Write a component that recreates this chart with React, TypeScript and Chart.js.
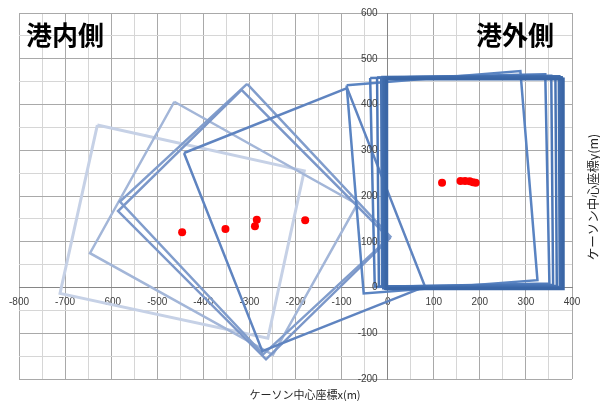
import React, { useEffect, useRef } from 'react';
import { Chart, registerables } from 'chart.js';

Chart.register(...registerables);

// ---- texts ----
const titleInner = '港内側';
const titleOuter = '港外側';
const xAxisTitle = 'ケーソン中心座標x(m)';
const yAxisTitle = 'ケーソン中心座標y(m)';

// ---- axis ranges / ticks ----
const xMin = -800;
const xMax = 400;
const yMin = -200;
const yMax = 600;
const tickStep = 50;
const labelStep = 100;

// ---- caisson outlines (closed polygons: corner coordinates) ----
const rectA_x = [-630, -181, -260, -711, -630];
const rectA_y = [355, 255, -111, -13, 355];
const rectB_x = [-463, -66, -249, -646, -463];
const rectB_y = [406, 182, -147, 75, 406];
const rectC_x = [-305, 6, -270, -581, -305];
const rectC_y = [445, 111, -146, 188, 445];
const rectD_x = [-317, 4, -264, -585, -317];
const rectD_y = [432, 107, -157, 167, 432];
const rectE_x = [-442, -88, 81, -272, -442];
const rectE_y = [294, 436, 2, -139, 294];
const rectR1_x = [-89, 288, 325, -52, -89];
const rectR1_y = [442, 473, 16, -13, 442];
const rectR2_x = [-38, 342, 351, -28, -38];
const rectR2_y = [458, 466, 9, 1, 458];
const rectR3_x = [-23, 355, 359, -19, -23];
const rectR3_y = [459, 463, 6, 2, 459];
const rectR4_x = [-14, 364, 367, -12, -14];
const rectR4_y = [460, 462, 4, 2, 460];
const rectR5_x = [-9, 372, 374, -8, -9];
const rectR5_y = [459, 461, 1, -1, 459];
const rectR6_x = [-6, 377, 378, -5, -6];
const rectR6_y = [458, 459, -1, -2, 458];
const rectR7_x = [-2, 381, 381, -2, -2];
const rectR7_y = [456, 456, -3, -3, 456];

// ---- caisson centres ----
const centerInner_x = [-446, -352, -284, -288, -179];
const centerInner_y = [121, 128, 148, 134, 147];
const centerOuter_x = [118, 158, 168, 178, 185, 191];
const centerOuter_y = [229, 233, 233, 232, 230, 229];

const toPts = (xs: number[], ys: number[]) => xs.map((x, i) => ({ x, y: ys[i] }));

const rects: { xs: number[]; ys: number[]; color: string; width: number }[] = [
  { xs: rectA_x, ys: rectA_y, color: '#c6d1e6', width: 3 },
  { xs: rectB_x, ys: rectB_y, color: '#a3b6d8', width: 2.5 },
  { xs: rectC_x, ys: rectC_y, color: '#819dcc', width: 2.5 },
  { xs: rectD_x, ys: rectD_y, color: '#7b97c9', width: 2.5 },
  { xs: rectE_x, ys: rectE_y, color: '#5f84c0', width: 2.5 },
  { xs: rectR1_x, ys: rectR1_y, color: '#5a84c2', width: 2.5 },
  { xs: rectR2_x, ys: rectR2_y, color: '#527dbd', width: 2.5 },
  { xs: rectR3_x, ys: rectR3_y, color: '#4c77b7', width: 2.5 },
  { xs: rectR4_x, ys: rectR4_y, color: '#4773b3', width: 2.5 },
  { xs: rectR5_x, ys: rectR5_y, color: '#426eae', width: 3 },
  { xs: rectR6_x, ys: rectR6_y, color: '#3e6aaa', width: 3 },
  { xs: rectR7_x, ys: rectR7_y, color: '#3a66a6', width: 3 },
];

const tickColor = '#404040';
const tickFontCss = '10px "Liberation Sans", Arial, sans-serif';

const textPlugin = {
  id: 'chartTexts',
  afterDatasetsDraw(chart: any) {
    // y-axis tick labels, to the left of the x = 0 axis line
    const { ctx, scales } = chart;
    const xs = scales.x;
    const ys = scales.y;
    const axisX = xs.getPixelForValue(0);
    ctx.save();
    ctx.font = tickFontCss;
    ctx.fillStyle = tickColor;
    ctx.textAlign = 'right';
    ctx.textBaseline = 'middle';
    ys.ticks.forEach((t: any) => {
      if (t.value % labelStep !== 0) return;
      ctx.fillText(String(t.value), axisX - 10, ys.getPixelForValue(t.value));
    });
    ctx.restore();
  },
  afterDraw(chart: any) {
    const { ctx, chartArea } = chart;
    ctx.save();
    ctx.fillStyle = '#000000';
    ctx.textAlign = 'center';
    ctx.textBaseline = 'middle';
    ctx.font = 'bold 26px "Noto Sans CJK JP"';
    ctx.fillText(titleInner, chartArea.left + 46, chartArea.top + 22);
    ctx.fillText(titleOuter, chartArea.right - 57, chartArea.top + 22);
    ctx.font = '11px "Noto Sans CJK JP"';
    ctx.fillStyle = '#262626';
    ctx.fillText(xAxisTitle, chartArea.left + 286, chartArea.bottom + 16);
    ctx.translate(chartArea.right + 21, chartArea.top + 184);
    ctx.rotate(-Math.PI / 2);
    ctx.font = '12.5px "Noto Sans CJK JP"';
    ctx.fillText(yAxisTitle, 0, 0);
    ctx.restore();
  },
};

const majorGrid = '#a9a9a9';
const minorGrid = '#d6d6d6';
const tickFont = { family: '"Liberation Sans", Arial, sans-serif', size: 10 };

export default function App() {
  const canvasRef = useRef<HTMLCanvasElement | null>(null);

  useEffect(() => {
    if (!canvasRef.current) return;
    const datasets: any[] = [
      {
        label: 'inner centres',
        data: toPts(centerInner_x, centerInner_y),
        backgroundColor: '#ff0000',
        borderWidth: 0,
        pointRadius: 4,
        showLine: false,
      },
      {
        label: 'outer centres',
        data: toPts(centerOuter_x, centerOuter_y),
        backgroundColor: '#ff0000',
        borderWidth: 0,
        pointRadius: 4,
        showLine: false,
      },
      ...rects
        .slice()
        .reverse()
        .map((r, i) => ({
          label: 'caisson ' + i,
          data: toPts(r.xs, r.ys),
          showLine: true,
          borderColor: r.color,
          borderWidth: r.width,
          pointRadius: 0,
          fill: false,
          tension: 0,
          borderJoinStyle: 'miter',
        })),
    ];

    const gridColor = (c: any) =>
      c.tick && Math.abs(c.tick.value % labelStep) === 0 ? majorGrid : minorGrid;

    const chart = new Chart(canvasRef.current, {
      type: 'scatter',
      data: { datasets },
      plugins: [textPlugin],
      options: {
        animation: false,
        responsive: false,
        layout: { padding: { left: 19, top: 13, right: 28, bottom: 22 } },
        plugins: { legend: { display: false }, tooltip: { enabled: false } },
        scales: {
          x: {
            type: 'linear',
            min: xMin,
            max: xMax,
            position: { y: 0 } as any,
            afterFit: (s: any) => {
              s.height = 0;
            },
            ticks: {
              stepSize: tickStep,
              autoSkip: false,
              maxRotation: 0,
              padding: 9,
              color: tickColor,
              font: tickFont,
              callback: (v: any) => (Number(v) % labelStep === 0 ? String(v) : ''),
            },
            grid: { color: gridColor, drawTicks: false, lineWidth: 1 },
            border: { display: true, color: '#868686', width: 1 },
          },
          y: {
            type: 'linear',
            min: yMin,
            max: yMax,
            position: { x: 0 } as any,
            afterFit: (s: any) => {
              s.width = 0;
            },
            ticks: {
              stepSize: tickStep,
              autoSkip: false,
              display: false,
            },
            grid: { color: gridColor, drawTicks: false, lineWidth: 1 },
            border: { display: true, color: '#868686', width: 1 },
          },
        },
      } as any,
    });
    return () => chart.destroy();
  }, []);

  return (
    <div style={{ position: 'absolute', left: 0, top: 0, width: 600, height: 401, background: '#ffffff' }}>
      <canvas ref={canvasRef} width={600} height={401} style={{ display: 'block' }} />
    </div>
  );
}
